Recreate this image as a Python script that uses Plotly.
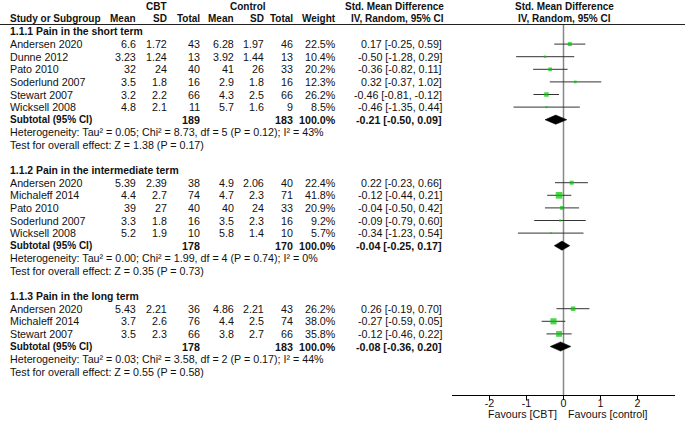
import plotly.graph_objects as go

# ---------------- data ----------------
s1_title = "1.1.1 Pain in the short term"
s1_studies = ["Andersen 2020", "Dunne 2012", "Pato 2010", "Soderlund 2007", "Stewart 2007", "Wicksell 2008"]
s1_cbt_mean = ["6.6", "3.23", "32", "3.5", "3.2", "4.8"]
s1_cbt_sd = ["1.72", "1.24", "24", "1.8", "2.2", "2.1"]
s1_cbt_n = [43, 13, 40, 16, 66, 11]
s1_ctl_mean = ["6.28", "3.92", "41", "2.9", "4.3", "5.7"]
s1_ctl_sd = ["1.97", "1.44", "26", "1.8", "2.5", "1.6"]
s1_ctl_n = [46, 13, 33, 16, 66, 9]
s1_weight = [22.5, 10.4, 20.2, 12.3, 26.2, 8.5]
s1_smd = [0.17, -0.50, -0.36, 0.32, -0.46, -0.46]
s1_lo = [-0.25, -1.28, -0.82, -0.37, -0.81, -1.35]
s1_hi = [0.59, 0.29, 0.11, 1.02, -0.12, 0.44]
s1_total = [189, 183]
s1_pooled = [-0.21, -0.50, 0.09]
s1_het = "Heterogeneity: Tau² = 0.05; Chi² = 8.73, df = 5 (P = 0.12); I² = 43%"
s1_test = "Test for overall effect: Z = 1.38 (P = 0.17)"

s2_title = "1.1.2 Pain in the intermediate term"
s2_studies = ["Andersen 2020", "Michaleff 2014", "Pato 2010", "Soderlund 2007", "Wicksell 2008"]
s2_cbt_mean = ["5.39", "4.4", "39", "3.3", "5.2"]
s2_cbt_sd = ["2.39", "2.7", "27", "1.8", "1.9"]
s2_cbt_n = [38, 74, 40, 16, 10]
s2_ctl_mean = ["4.9", "4.7", "40", "3.5", "5.8"]
s2_ctl_sd = ["2.06", "2.3", "24", "2.3", "1.4"]
s2_ctl_n = [40, 71, 33, 16, 10]
s2_weight = [22.4, 41.8, 20.9, 9.2, 5.7]
s2_smd = [0.22, -0.12, -0.04, -0.09, -0.34]
s2_lo = [-0.23, -0.44, -0.50, -0.79, -1.23]
s2_hi = [0.66, 0.21, 0.42, 0.60, 0.54]
s2_total = [178, 170]
s2_pooled = [-0.04, -0.25, 0.17]
s2_het = "Heterogeneity: Tau² = 0.00; Chi² = 1.99, df = 4 (P = 0.74); I² = 0%"
s2_test = "Test for overall effect: Z = 0.35 (P = 0.73)"

s3_title = "1.1.3 Pain in the long term"
s3_studies = ["Andersen 2020", "Michaleff 2014", "Stewart 2007"]
s3_cbt_mean = ["5.43", "3.7", "3.5"]
s3_cbt_sd = ["2.21", "2.6", "2.3"]
s3_cbt_n = [36, 76, 66]
s3_ctl_mean = ["4.86", "4.4", "3.8"]
s3_ctl_sd = ["2.21", "2.5", "2.7"]
s3_ctl_n = [43, 74, 66]
s3_weight = [26.2, 38.0, 35.8]
s3_smd = [0.26, -0.27, -0.12]
s3_lo = [-0.19, -0.59, -0.46]
s3_hi = [0.70, 0.05, 0.22]
s3_total = [178, 183]
s3_pooled = [-0.08, -0.36, 0.20]
s3_het = "Heterogeneity: Tau² = 0.03; Chi² = 3.58, df = 2 (P = 0.17); I² = 44%"
s3_test = "Test for overall effect: Z = 0.55 (P = 0.58)"

tick_vals = [-2, -1, 0, 1, 2]
tick_text = ["-2", "-1", "0", "1", "2"]
favours_left = "Favours [CBT]"
favours_right = "Favours [control]"

sections = [
    dict(title=s1_title, studies=s1_studies, cm=s1_cbt_mean, cs=s1_cbt_sd, cn=s1_cbt_n,
         km=s1_ctl_mean, ks=s1_ctl_sd, kn=s1_ctl_n, w=s1_weight, smd=s1_smd, lo=s1_lo, hi=s1_hi,
         tot=s1_total, pooled=s1_pooled, het=s1_het, test=s1_test),
    dict(title=s2_title, studies=s2_studies, cm=s2_cbt_mean, cs=s2_cbt_sd, cn=s2_cbt_n,
         km=s2_ctl_mean, ks=s2_ctl_sd, kn=s2_ctl_n, w=s2_weight, smd=s2_smd, lo=s2_lo, hi=s2_hi,
         tot=s2_total, pooled=s2_pooled, het=s2_het, test=s2_test),
    dict(title=s3_title, studies=s3_studies, cm=s3_cbt_mean, cs=s3_cbt_sd, cn=s3_cbt_n,
         km=s3_ctl_mean, ks=s3_ctl_sd, kn=s3_ctl_n, w=s3_weight, smd=s3_smd, lo=s3_lo, hi=s3_hi,
         tot=s3_total, pooled=s3_pooled, het=s3_het, test=s3_test),
]

# ---------------- layout constants ----------------
W, H = 685, 421
Y0, PITCH = 31.5, 12.6
FONT = "Liberation Sans"
FS = 10.7
FSH = 10.0
TXT = "#111111"
GREEN = "#00c800"

# column right edges (pixels)
C_CM, C_CS, C_CN = 137, 168, 201
C_KM, C_KS, C_KN = 235, 265, 294
C_W, C_CI = 337, 443
X_LEFT = 9

annotations = []


def txt(x, y, s, anchor="right", bold=False, size=FS):
    annotations.append(dict(
        x=x, y=y, xref="x", yref="y", text=("<b>%s</b>" % s) if bold else s,
        showarrow=False, xanchor=anchor, yanchor="middle",
        font=dict(family=FONT, size=size, color=TXT), borderpad=0))


def fmt(v):
    return "%.2f" % v


def ci_text(e, l, h):
    return "%s [%s, %s]" % (fmt(e), fmt(l), fmt(h))


# header
txt(156, 6.5, "CBT", anchor="center", bold=True, size=FSH)
txt(248, 6.5, "Control", anchor="center", bold=True, size=FSH)
txt(394, 6.5, "Std. Mean Difference", anchor="center", bold=True, size=FSH)
txt(564, 6.5, "Std. Mean Difference", anchor="center", bold=True, size=FSH)
txt(X_LEFT, 18, "Study or Subgroup", anchor="left", bold=True, size=FSH)
txt(C_CM, 18, "Mean", bold=True, size=FSH)
txt(C_CS, 18, "SD", bold=True, size=FSH)
txt(C_CN, 18, "Total", bold=True, size=FSH)
txt(C_KM, 18, "Mean", bold=True, size=FSH)
txt(C_KS, 18, "SD", bold=True, size=FSH)
txt(C_KN, 18, "Total", bold=True, size=FSH)
txt(C_W, 18, "Weight", bold=True, size=FSH)
txt(397, 18, "IV, Random, 95% CI", anchor="center", bold=True, size=FSH)
txt(564, 18, "IV, Random, 95% CI", anchor="center", bold=True, size=FSH)

ci_x, ci_y = [], []
mk_x, mk_y, mk_s = [], [], []
traces = []

row = 0
for sec in sections:
    ry = Y0 + PITCH * row
    txt(X_LEFT, ry, sec["title"], anchor="left", bold=True, size=10.4)
    row += 1
    for i, name in enumerate(sec["studies"]):
        ry = Y0 + PITCH * row
        txt(X_LEFT, ry, name, anchor="left")
        txt(C_CM, ry, sec["cm"][i])
        txt(C_CS, ry, sec["cs"][i])
        txt(C_CN, ry, str(sec["cn"][i]))
        txt(C_KM, ry, sec["km"][i])
        txt(C_KS, ry, sec["ks"][i])
        txt(C_KN, ry, str(sec["kn"][i]))
        txt(C_W, ry, "%.1f%%" % sec["w"][i])
        txt(C_CI, ry, ci_text(sec["smd"][i], sec["lo"][i], sec["hi"][i]))
        ci_x += [sec["lo"][i], sec["hi"][i], None]
        ci_y += [ry, ry, None]
        mk_x.append(sec["smd"][i])
        mk_y.append(ry)
        mk_s.append(1 + 0.135 * sec["w"][i])
        row += 1
    ry = Y0 + PITCH * row
    txt(X_LEFT, ry, "Subtotal (95% CI)", anchor="left", bold=True, size=FSH)
    txt(C_CN, ry, str(sec["tot"][0]), bold=True)
    txt(C_KN, ry, str(sec["tot"][1]), bold=True)
    txt(C_W, ry, "100.0%", bold=True)
    e, l, h = sec["pooled"]
    txt(C_CI, ry, ci_text(e, l, h), bold=True)
    dh = 4.6
    traces.append(go.Scatter(
        x=[l, e, h, e, l], y=[ry, ry - dh, ry, ry + dh, ry], xaxis="x2", yaxis="y",
        mode="lines", fill="toself", fillcolor="black", line=dict(color="black", width=0.5),
        hoverinfo="skip", showlegend=False))
    row += 1
    ry = Y0 + PITCH * row
    txt(X_LEFT, ry, sec["het"], anchor="left")
    row += 1
    ry = Y0 + PITCH * row
    txt(X_LEFT, ry, sec["test"], anchor="left")
    row += 2

AXIS_Y = 395
HEAD_Y = 24.5

fig = go.Figure()
fig.add_trace(go.Scatter(x=ci_x, y=ci_y, xaxis="x2", yaxis="y", mode="lines",
                         line=dict(color="#333333", width=1), hoverinfo="skip", showlegend=False))
fig.add_trace(go.Scatter(x=mk_x, y=mk_y, xaxis="x2", yaxis="y", mode="markers",
                         marker=dict(symbol="square", size=mk_s, color=GREEN, line=dict(width=0)),
                         hoverinfo="skip", showlegend=False))
for t in traces:
    fig.add_trace(t)

# favours labels
txt(558, 414, favours_left, anchor="right")
txt(567, 414, favours_right, anchor="left")

shapes = [
    dict(type="line", xref="paper", yref="y", x0=0, x1=1, y0=HEAD_Y, y1=HEAD_Y,
         line=dict(color="#222222", width=1)),
    dict(type="line", xref="x2", yref="y", x0=0, x1=0, y0=HEAD_Y, y1=AXIS_Y,
         line=dict(color="#888888", width=1.5), layer="below"),
]

fig.update_layout(
    width=W, height=H, margin=dict(l=0, r=0, t=0, b=0),
    paper_bgcolor="white", plot_bgcolor="rgba(0,0,0,0)",
    xaxis=dict(range=[0, W], domain=[0, 1], visible=False, fixedrange=True),
    yaxis=dict(range=[H, 0], domain=[0, 1], visible=False, fixedrange=True),
    xaxis2=dict(domain=[452 / W, 675 / W], range=[-3.01, 3.01], anchor="free",
                position=1 - AXIS_Y / H, showline=True, linecolor="black", linewidth=1,
                ticks="outside", ticklen=4, tickwidth=1, tickcolor="black",
                ticklabelstandoff=-6,
                tickvals=tick_vals, ticktext=tick_text, showgrid=False, zeroline=False,
                tickfont=dict(family=FONT, size=FS, color=TXT), fixedrange=True),
    annotations=annotations, shapes=shapes, showlegend=False,
)

fig.write_html("out.html", config={"displayModeBar": False, "staticPlot": True},
               post_script="document.body.style.margin='0px';document.body.style.overflow='hidden';")
